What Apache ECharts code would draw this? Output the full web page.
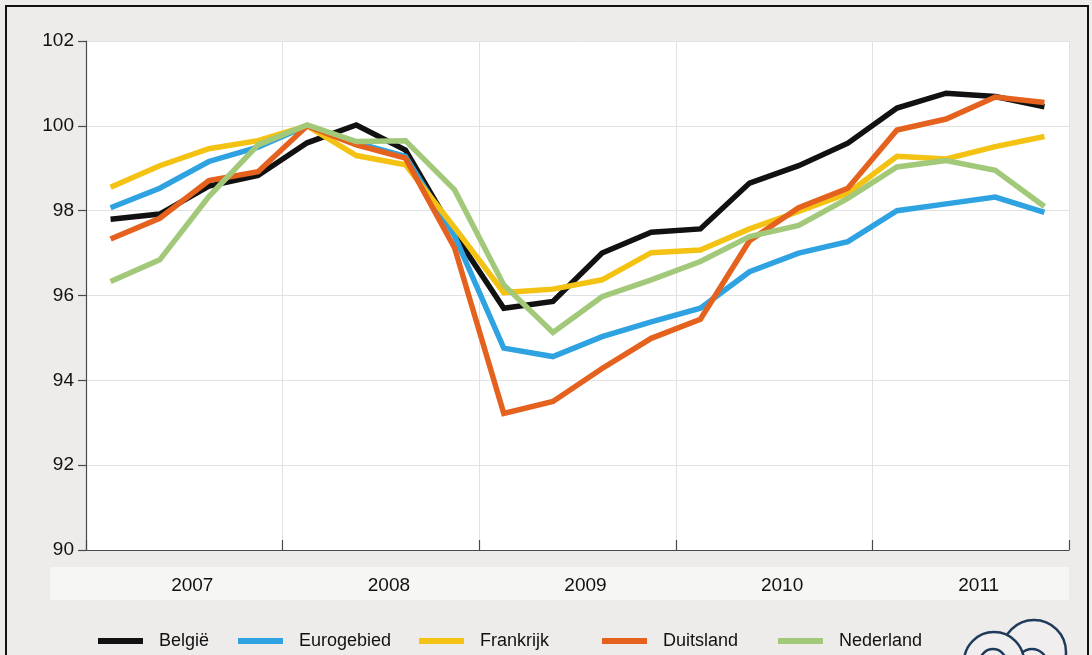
<!DOCTYPE html>
<html>
<head>
<meta charset="utf-8">
<script src="https://cdn.jsdelivr.net/npm/echarts@6/dist/echarts.min.js"></script>
<style>
  html, body { margin: 0; padding: 0; background: #eeeceb; }
  #chart { width: 1092px; height: 655px; }
</style>
</head>
<body>
<div id="chart"></div>
<script>
// Quarterly index, 2007Q1 – 2011Q4
const quarters = [
  '2007Q1','2007Q2','2007Q3','2007Q4',
  '2008Q1','2008Q2','2008Q3','2008Q4',
  '2009Q1','2009Q2','2009Q3','2009Q4',
  '2010Q1','2010Q2','2010Q3','2010Q4',
  '2011Q1','2011Q2','2011Q3','2011Q4'
];
const years = ['2007', '2008', '2009', '2010', '2011'];

const belgie     = [97.80, 97.92, 98.58, 98.83, 99.60, 100.02, 99.43, 97.45, 95.70, 95.86, 97.00, 97.49, 97.57, 98.65, 99.06, 99.59, 100.42, 100.77, 100.69, 100.45];
const eurogebied = [98.07, 98.53, 99.16, 99.50, 100.00, 99.60, 99.28, 97.40, 94.76, 94.56, 95.03, 95.38, 95.70, 96.56, 97.00, 97.27, 98.00, 98.16, 98.32, 97.96];
const frankrijk  = [98.55, 99.06, 99.46, 99.65, 100.00, 99.30, 99.08, 97.60, 96.07, 96.15, 96.37, 97.01, 97.07, 97.57, 97.98, 98.41, 99.28, 99.22, 99.51, 99.75];
const duitsland  = [97.33, 97.82, 98.71, 98.92, 100.00, 99.55, 99.24, 97.12, 93.22, 93.50, 94.28, 94.99, 95.44, 97.29, 98.07, 98.53, 99.90, 100.16, 100.68, 100.55];
const nederland  = [96.33, 96.84, 98.33, 99.55, 100.02, 99.63, 99.65, 98.49, 96.25, 95.13, 95.97, 96.37, 96.80, 97.39, 97.65, 98.29, 99.03, 99.18, 98.95, 98.10];

const yTicks = { min: 90, max: 102, interval: 2 };

const seriesDefs = [
  { name: 'België',     data: belgie,     color: '#111111' },
  { name: 'Eurogebied', data: eurogebied, color: '#2fa3e2' },
  { name: 'Frankrijk',  data: frankrijk,  color: '#f3c213' },
  { name: 'Duitsland',  data: duitsland,  color: '#e5621e' },
  { name: 'Nederland',  data: nederland,  color: '#a2c979' }
];

const font = 'Liberation Sans, Arial, sans-serif';
const legendLefts = [93, 233, 414, 597, 773];

const chart = echarts.init(document.getElementById('chart'), null, { renderer: 'canvas' });

chart.setOption({
  animation: false,
  backgroundColor: '#eeeceb',
  textStyle: { fontFamily: font },
  grid: { left: 86, top: 41, right: 23, bottom: 105, containLabel: false, show: true, backgroundColor: '#ffffff', borderWidth: 0 },
  legend: seriesDefs.map((s, i) => ({
    data: [s.name],
    left: legendLefts[i],
    top: 627,
    icon: 'rect',
    itemWidth: 45,
    itemHeight: 6,
    textStyle: { fontSize: 18, color: '#111111', fontFamily: font, padding: [0, 0, 0, 11] }
  })),
  xAxis: [
    {
      type: 'category',
      data: quarters,
      boundaryGap: true,
      show: false
    },
    {
      type: 'category',
      data: years,
      boundaryGap: true,
      position: 'bottom',
      axisLine: { show: true, lineStyle: { color: '#4a4a4a', width: 1.2 } },
      axisTick: { show: true, inside: true, length: 10, lineStyle: { color: '#4a4a4a', width: 1.2 } },
      axisLabel: { fontSize: 19, color: '#111111', margin: 26, fontFamily: font, padding: [0, 0, 0, 16] },
      splitLine: { show: true, lineStyle: { color: '#e2e2e2', width: 1 } }
    }
  ],
  yAxis: {
    type: 'value',
    min: yTicks.min,
    max: yTicks.max,
    interval: yTicks.interval,
    axisLine: { show: true, lineStyle: { color: '#4a4a4a', width: 1.2 } },
    axisTick: { show: true, inside: false, length: 8, lineStyle: { color: '#4a4a4a', width: 1.2 } },
    axisLabel: { fontSize: 19, color: '#111111', margin: 12, fontFamily: font },
    splitLine: { show: true, lineStyle: { color: '#e2e2e2', width: 1 } }
  },
  series: seriesDefs.map(s => ({
    name: s.name,
    type: 'line',
    xAxisIndex: 0,
    data: s.data,
    color: s.color,
    symbol: 'none',
    smooth: false,
    lineStyle: { width: 5.5, color: s.color, join: 'miter' }
  })),
  graphic: [
    // light strip behind the year labels
    { type: 'rect', z: -10, shape: { x: 50, y: 567, width: 1019, height: 33 }, style: { fill: '#f6f6f5' } },
    // frame
    { type: 'rect', z: 100, shape: { x: 6, y: 6, width: 1082, height: 700 }, style: { fill: null, stroke: '#111', lineWidth: 2 } },
    // logo: two ringed circles
    { type: 'circle', z: 50, shape: { cx: 1034, cy: 652, r: 32 }, style: { fill: '#f0eeee', stroke: '#1f3a5a', lineWidth: 2.5 } },
    { type: 'circle', z: 51, shape: { cx: 1032, cy: 664, r: 15 }, style: { fill: null, stroke: '#1f3a5a', lineWidth: 2.5 } },
    { type: 'circle', z: 52, shape: { cx: 994, cy: 662, r: 30 }, style: { fill: '#f0eeee', stroke: '#1f3a5a', lineWidth: 2.5 } },
    { type: 'circle', z: 53, shape: { cx: 993, cy: 662, r: 13 }, style: { fill: null, stroke: '#1f3a5a', lineWidth: 2.5 } }
  ]
});
</script>
</body>
</html>
